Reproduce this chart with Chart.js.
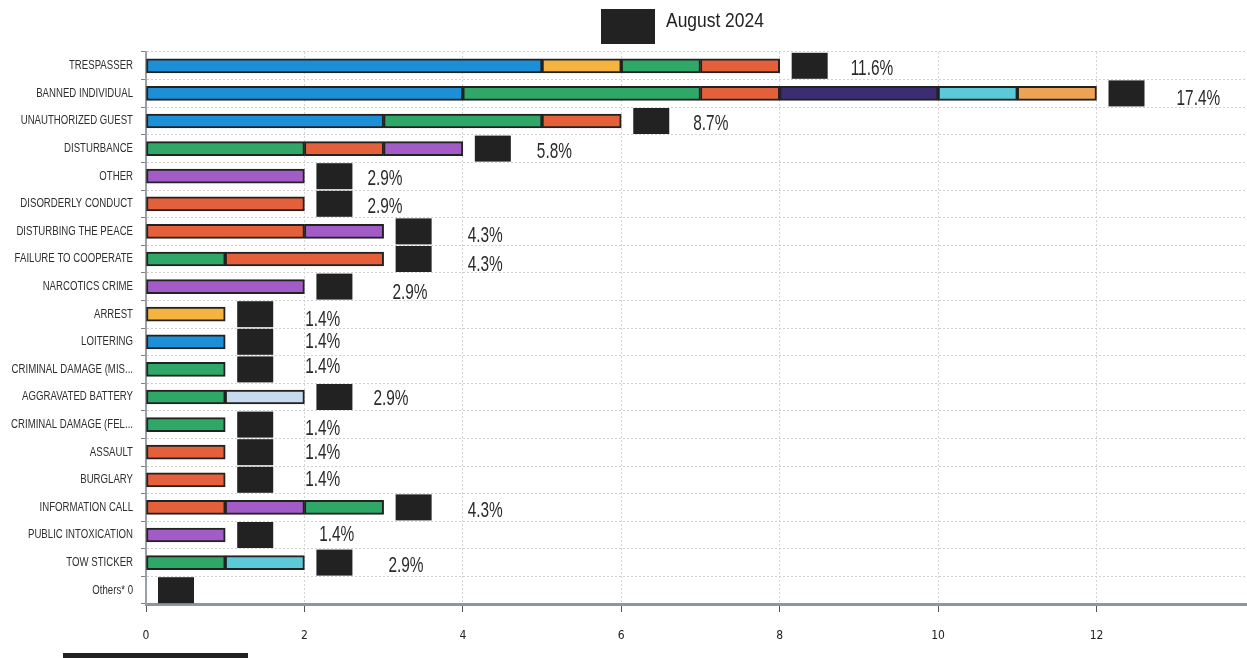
<!DOCTYPE html>
<html>
<head>
<meta charset="utf-8">
<script src="https://cdn.jsdelivr.net/npm/chart.js@4/dist/chart.umd.min.js"></script>
<style>
  html, body { margin: 0; padding: 0; background: #fff; }
  #wrap { width: 1247px; height: 658px; position: relative; }
</style>
</head>
<body>
<div id="wrap"><canvas id="chart"></canvas></div>
<script>
const categories = [
  'TRESPASSER', 'BANNED INDIVIDUAL', 'UNAUTHORIZED GUEST', 'DISTURBANCE', 'OTHER',
  'DISORDERLY CONDUCT', 'DISTURBING THE PEACE', 'FAILURE TO COOPERATE', 'NARCOTICS CRIME', 'ARREST',
  'LOITERING', 'CRIMINAL DAMAGE (MIS...', 'AGGRAVATED BATTERY', 'CRIMINAL DAMAGE (FEL...', 'ASSAULT',
  'BURGLARY', 'INFORMATION CALL', 'PUBLIC INTOXICATION', 'TOW STICKER', 'Others* 0'
];

// stacked segments, left to right, with the series each segment belongs to
const seg1 = [5, 4, 3, 2, 2, 2, 2, 1, 2, 1, 1, 1, 1, 1, 1, 1, 1, 1, 1, 0];
const seg1Series = ['A', 'A', 'A', 'C', 'E', 'D', 'D', 'C', 'E', 'B', 'A', 'C', 'C', 'C', 'D', 'D', 'D', 'E', 'C', ''];
const seg2 = [1, 3, 2, 1, 0, 0, 1, 2, 0, 0, 0, 0, 1, 0, 0, 0, 1, 0, 1, 0];
const seg2Series = ['B', 'C', 'C', 'D', '', '', 'E', 'D', '', '', '', '', 'I', '', '', '', 'E', '', 'G', ''];
const seg3 = [1, 1, 1, 1, 0, 0, 0, 0, 0, 0, 0, 0, 0, 0, 0, 0, 1, 0, 0, 0];
const seg3Series = ['C', 'D', 'D', 'E', '', '', '', '', '', '', '', '', '', '', '', '', 'C', '', '', ''];
const seg4 = [1, 2, 0, 0, 0, 0, 0, 0, 0, 0, 0, 0, 0, 0, 0, 0, 0, 0, 0, 0];
const seg4Series = ['D', 'F', '', '', '', '', '', '', '', '', '', '', '', '', '', '', '', '', '', ''];
const seg5 = [0, 1, 0, 0, 0, 0, 0, 0, 0, 0, 0, 0, 0, 0, 0, 0, 0, 0, 0, 0];
const seg5Series = ['', 'G', '', '', '', '', '', '', '', '', '', '', '', '', '', '', '', '', '', ''];
const seg6 = [0, 1, 0, 0, 0, 0, 0, 0, 0, 0, 0, 0, 0, 0, 0, 0, 0, 0, 0, 0];
const seg6Series = ['', 'H', '', '', '', '', '', '', '', '', '', '', '', '', '', '', '', '', '', ''];

const percentLabels = [
  '11.6%', '17.4%', '8.7%', '5.8%', '2.9%', '2.9%', '4.3%', '4.3%', '2.9%', '1.4%',
  '1.4%', '1.4%', '2.9%', '1.4%', '1.4%', '1.4%', '4.3%', '1.4%', '2.9%', ''
];

const xTicks = [0, 2, 4, 6, 8, 10, 12];
const legendLabel = 'August 2024';

// styling
const PALETTE = {
  A: '#1c8fd7', B: '#f5b33f', C: '#2ea767', D: '#e4603b', E: '#a35bc7',
  F: '#3b2d6f', G: '#5bc9d7', H: '#eda254', I: '#c8dbee'
};
const SANS = '"Liberation Sans", Arial, sans-serif';
// nudges for the value labels (px from bar end, px from row centre)
const labelDx = [71, 80, 72, 74, 63, 63, 84, 84, 88, 80, 80, 80, 69, 80, 80, 80, 84, 94, 84, 0];
const labelDy = [3, 6, 3, 3, 3, 3, 5, 6, 6, 6, 0, -2, 2, 4, 1, 0, 4, 0, 3, 0];

const segs = [
  [seg1, seg1Series], [seg2, seg2Series], [seg3, seg3Series],
  [seg4, seg4Series], [seg5, seg5Series], [seg6, seg6Series]
];

const datasets = segs.map(([vals, series], i) => ({
  label: 'seg' + (i + 1),
  data: vals.map(v => v === 0 ? null : v),
  backgroundColor: series.map(s => PALETTE[s] || 'transparent'),
  borderColor: '#222',
  borderWidth: 2,
  borderSkipped: false,
  barThickness: 14
}));

const totals = categories.map((_, i) => segs.reduce((s, [vals]) => s + vals[i], 0));

// draws condensed text (the original uses a narrow face)
function narrowText(ctx, text, x, y, size, squeeze, align) {
  ctx.save();
  ctx.translate(x, y);
  ctx.scale(squeeze, 1);
  ctx.font = size + 'px ' + SANS;
  ctx.textAlign = align;
  ctx.textBaseline = 'middle';
  ctx.fillText(text, 0, 0);
  ctx.restore();
}

const decorations = {
  id: 'decorations',
  afterDraw(chart) {
    const { ctx, scales: { x, y } } = chart;
    ctx.save();
    categories.forEach((c, i) => {
      const xe = x.getPixelForValue(totals[i]);
      const yc = y.getPixelForValue(i);
      ctx.fillStyle = '#2e2e2e';
      narrowText(ctx, c, 133, yc, 12.5, 0.77, 'right');
      ctx.fillStyle = '#222';
      ctx.fillRect(xe + 12, yc - 13, 36, 26);
      if (percentLabels[i]) {
        ctx.fillStyle = '#2a2a2a';
        narrowText(ctx, percentLabels[i], xe + labelDx[i], yc + labelDy[i], 22, 0.7, 'left');
      }
    });
    // legend-like header
    ctx.fillStyle = '#222';
    ctx.fillRect(601, 9, 54, 35);
    narrowText(ctx, legendLabel, 666, 21, 21, 0.83, 'left');
    // redacted footer strip
    ctx.fillRect(63, 653, 185, 6);
    ctx.restore();
  }
};

new Chart(document.getElementById('chart'), {
  type: 'bar',
  data: { labels: categories, datasets },
  options: {
    indexAxis: 'y',
    responsive: true,
    maintainAspectRatio: false,
    animation: false,
    layout: { padding: { top: 52, right: 0, bottom: 0, left: 0 } },
    plugins: {
      legend: { display: false },
      tooltip: { enabled: false }
    },
    scales: {
      x: {
        stacked: true,
        min: 0,
        max: 13.9,
        afterBuildTicks: s => { s.ticks = xTicks.map(v => ({ value: v })); },
        afterFit: s => { s.height = 54; },
        ticks: { font: { family: '"DejaVu Sans Condensed", sans-serif', size: 12 }, color: '#222', padding: 17 },
        grid: { color: '#d4d4d4', tickColor: '#555', tickLength: 8, tickBorderDash: [] },
        border: { color: '#8e959c', width: 3, dash: [2, 2] }
      },
      y: {
        stacked: true,
        afterFit: s => { s.width = 146; },
        ticks: { display: false },
        grid: { offset: true, color: '#cfcfcf', tickColor: '#7a8088', tickLength: 5, tickBorderDash: [] },
        border: { color: '#9aa0a6', width: 2, dash: [2, 2] }
      }
    }
  },
  plugins: [decorations]
});
</script>
</body>
</html>
